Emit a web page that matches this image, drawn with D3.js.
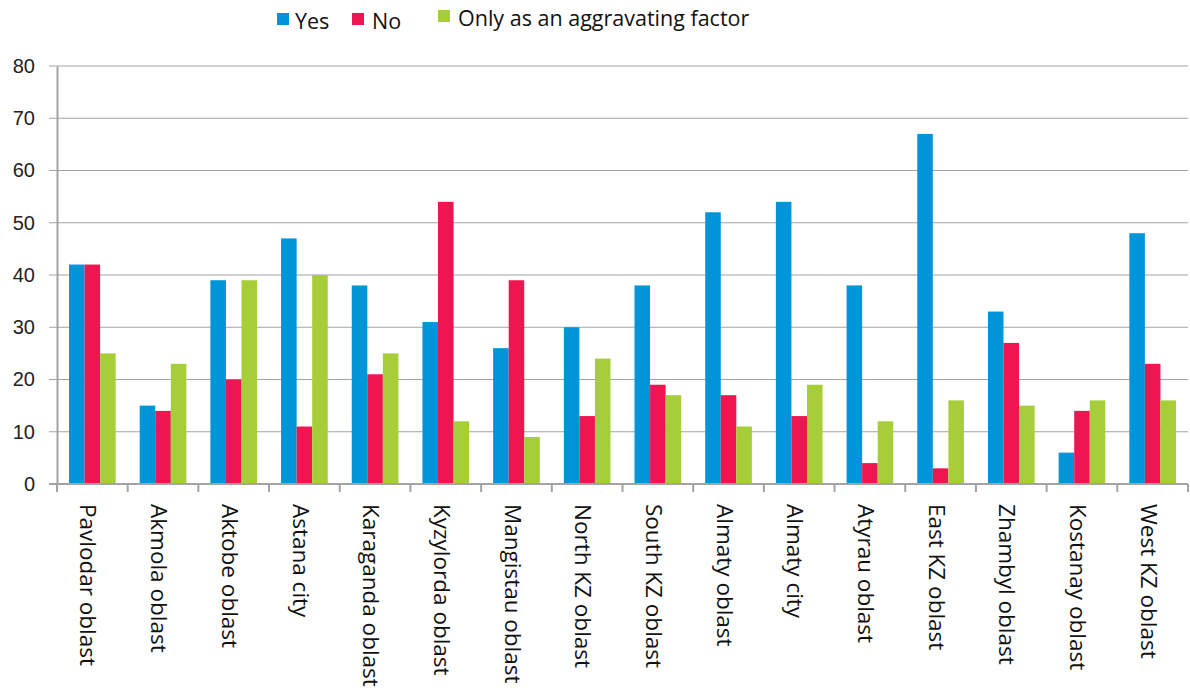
<!DOCTYPE html>
<html><head><meta charset="utf-8">
<script src="https://cdn.jsdelivr.net/npm/d3@7"></script>
<style>body{margin:0;background:#fff}svg{display:block}</style>
</head><body>
<script>
const categories = ["Pavlodar oblast","Akmola oblast","Aktobe oblast","Astana city","Karaganda oblast","Kyzylorda oblast","Mangistau oblast","North KZ oblast","South KZ oblast","Almaty oblast","Almaty city","Atyrau oblast","East KZ oblast","Zhambyl oblast","Kostanay oblast","West KZ oblast"];
const seriesNames = ["Yes","No","Only as an aggravating factor"];
const yesValues = [42,15,39,47,38,31,26,30,38,52,54,38,67,33,6,48];
const noValues = [42,14,20,11,21,54,39,13,19,17,13,4,3,27,14,23];
const aggrValues = [25,23,39,40,25,12,9,24,17,11,19,12,16,15,16,16];
const yTicks = [0,10,20,30,40,50,60,70,80];
const colors = ["#0095d9","#ee1651","#a6ce39"];

const W=1190,H=695;
const m={left:57,right:2,top:66,bottom:211};
const svg=d3.select("body").append("svg").attr("width",W).attr("height",H);
const x=d3.scaleBand().domain(categories).range([m.left,W-m.right]).paddingInner(0.34).paddingOuter(0.17);
const x1=d3.scaleBand().domain(seriesNames).range([0,x.bandwidth()]);
const y=d3.scaleLinear().domain([0,80]).range([H-m.bottom,m.top]);
const series=[yesValues,noValues,aggrValues];

// gridlines
svg.append("g").selectAll("line").data(yTicks).join("line")
 .attr("x1",m.left-8).attr("x2",W-m.right).attr("y1",d=>y(d)).attr("y2",d=>y(d))
 .attr("stroke","#a3a3a3").attr("stroke-width",1.2);

// bars
categories.forEach((c,i)=>{
  series.forEach((s,j)=>{
    svg.append("rect").attr("x",x(c)+x1(seriesNames[j])).attr("width",x1.bandwidth())
      .attr("y",y(s[i])).attr("height",y(0)-y(s[i])).attr("fill",colors[j]);
  });
});

// y axis
const ya=svg.append("g").attr("transform",`translate(${m.left},0)`)
 .call(d3.axisLeft(y).tickValues(yTicks).tickSize(0).tickPadding(22));
ya.select(".domain").attr("stroke","#a3a3a3").attr("stroke-width",2);
ya.selectAll("text").attr("font-family","Liberation Sans, Arial, sans-serif").attr("font-size",20).attr("fill","#222");

// x axis line and ticks
const outer=x.step()*x.paddingOuter();
const edges=categories.map(c=>x(c)-outer);
edges.push(W-m.right);
svg.append("line").attr("x1",m.left-8).attr("x2",W-m.right).attr("y1",y(0)).attr("y2",y(0)).attr("stroke","#a3a3a3").attr("stroke-width",2);
svg.append("g").selectAll("line").data(edges).join("line")
 .attr("x1",d=>d).attr("x2",d=>d).attr("y1",y(0)).attr("y2",y(0)+8).attr("stroke","#a3a3a3").attr("stroke-width",2);

// category labels
svg.append("g").selectAll("text").data(categories).join("text")
 .attr("transform",d=>`translate(${x(d)+x.bandwidth()/2-4},${y(0)+20}) rotate(90)`)
 .attr("dy","0.35em").attr("text-anchor","start")
 .attr("font-family","Open Sans, sans-serif").attr("font-size",22.5).attr("fill","#111")
 .text(d=>d);

// legend
const legPos=[[277,13,295],[352,13,372],[438,10,458]];
seriesNames.forEach((n,j)=>{
  const [rx,ry,tx]=legPos[j];
  svg.append("rect").attr("x",rx).attr("y",ry).attr("width",12).attr("height",12).attr("fill",colors[j]);
  svg.append("text").attr("x",tx).attr("y",ry+16).attr("font-family","Open Sans, sans-serif").attr("font-size",21.5).attr("fill","#111").text(n);
});
</script>
</body></html>
